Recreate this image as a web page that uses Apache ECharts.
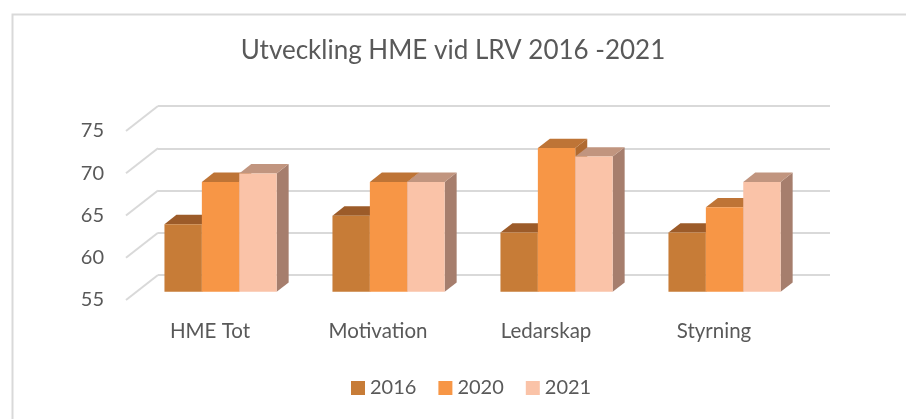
<!doctype html>
<html>
    <head>
        <meta charset="utf-8">
        <title>Utveckling HME vid LRV</title>
        <style>
            html, body { margin: 0; padding: 0; background: #fff; }
            #main { width: 906px; height: 419px; }
        </style>
    </head>
    <body>
        <div id="main"></div>
        <script src="https://cdn.jsdelivr.net/npm/echarts@6/dist/echarts.min.js"></script>
        <script>
            var categories = ['HME Tot', 'Motivation', 'Ledarskap', 'Styrning'];
            var years = ['2016', '2020', '2021'];
            var values2016 = [63, 64, 62, 62];
            var values2020 = [68, 68, 72, 65];
            var values2021 = [69, 68, 71, 68];
            var yMin = 55, yMax = 75, yStep = 5;

            // fake 3d: back wall is shifted by this much from the front plane
            var DX = 32, DY = -25;
            var FRONT = 0.33, DEPTH = 0.375, BAR = 0.2226;
            var faces = [
                { front: '#C77C37', top: '#9C5B29', side: '#8C5125' },
                { front: '#F79646', top: '#BE7436', side: '#B06A30' },
                { front: '#FAC3A8', top: '#C1957F', side: '#A67E6D' }
            ];
            var font = 'Lato, "Liberation Sans", sans-serif';

            var chart = echarts.init(document.getElementById('main'));

            function barRenderer(k) {
                return function (params, api) {
                    var c = api.value(0);
                    var top = api.coord([c, api.value(1)]);
                    var base = api.coord([c, yMin]);
                    var bw = api.size([1, 0])[0] * BAR;
                    var x = top[0] - 1.5 * bw + k * bw + FRONT * DX;
                    var yt = top[1] + FRONT * DY;
                    var yb = base[1] + FRONT * DY;
                    var dx = DEPTH * DX, dy = DEPTH * DY;
                    var f = faces[k];
                    return {
                        type: 'group',
                        children: [
                            { type: 'polygon', shape: { points: [[x + bw, yt], [x + bw + dx, yt + dy], [x + bw + dx, yb + dy], [x + bw, yb]] }, style: { fill: f.side } },
                            { type: 'polygon', shape: { points: [[x, yt], [x + bw, yt], [x + bw + dx, yt + dy], [x + dx, yt + dy]] }, style: { fill: f.top } },
                            { type: 'rect', shape: { x: x, y: yt, width: bw, height: yb - yt }, style: { fill: f.front } }
                        ]
                    };
                };
            }

            var ticks = [];
            for (var t = yMin; t <= yMax; t += yStep) ticks.push([0, t]);

            var series = [{
                type: 'custom',
                xAxisIndex: 0,
                yAxisIndex: 0,
                silent: true,
                z: 1,
                data: ticks,
                renderItem: function (params, api) {
                    var p = api.coord([0, api.value(1)]);
                    var x0 = params.coordSys.x;
                    return {
                        type: 'line',
                        shape: { x1: x0, y1: p[1], x2: x0 + DX, y2: p[1] + DY },
                        style: { stroke: '#D9D9D9', lineWidth: 2 }
                    };
                }
            }];
            [values2016, values2020, values2021].forEach(function (vals, k) {
                series.push({
                    name: years[k],
                    type: 'custom',
                    xAxisIndex: 0,
                    yAxisIndex: 0,
                    z: 3,
                    itemStyle: { color: faces[k].front },
                    data: vals.map(function (v, i) { return [i, v]; }),
                    renderItem: barRenderer(k)
                });
            });

            chart.setOption({
                animation: false,
                backgroundColor: '#fff',
                graphic: [{
                    type: 'rect',
                    left: 10, top: 12,
                    shape: { width: 1000, height: 1000 },
                    style: { fill: 'none', stroke: '#D9D9D9', lineWidth: 2 },
                    z: -1
                }],
                title: {
                    text: 'Utveckling HME vid LRV 2016 -2021',
                    left: 'center',
                    top: 33,
                    textStyle: { fontFamily: font, fontSize: 26, fontWeight: 'normal', color: '#595959' }
                },
                legend: {
                    bottom: 16,
                    left: 346,
                    icon: 'rect',
                    itemWidth: 14,
                    itemHeight: 14,
                    itemGap: 22,
                    data: years,
                    textStyle: { fontFamily: font, fontSize: 20, color: '#595959' }
                },
                grid: [
                    { left: 126, top: 131, width: 672, height: 169 },
                    { left: 126 + DX, top: 131 + DY, width: 672, height: 169 }
                ],
                xAxis: [{
                    gridIndex: 0,
                    type: 'category',
                    data: categories,
                    axisLine: { show: false },
                    axisTick: { show: false },
                    axisLabel: { margin: 21, fontFamily: font, fontSize: 20.5, color: '#595959' }
                }, {
                    gridIndex: 1,
                    type: 'category',
                    data: categories,
                    show: false
                }],
                yAxis: [{
                    gridIndex: 0,
                    type: 'value',
                    min: yMin, max: yMax, interval: yStep,
                    axisLine: { show: false },
                    axisTick: { show: false },
                    splitLine: { show: false },
                    axisLabel: { margin: 22, fontFamily: font, fontSize: 20, color: '#595959' }
                }, {
                    gridIndex: 1,
                    type: 'value',
                    min: yMin, max: yMax, interval: yStep,
                    axisLine: { show: false },
                    axisTick: { show: false },
                    axisLabel: { show: false },
                    splitLine: { lineStyle: { color: '#D9D9D9', width: 2 } }
                }],
                series: series
            });
            window.addEventListener('resize', function () {
                chart.resize();
            });
        </script>
    </body>
</html>
